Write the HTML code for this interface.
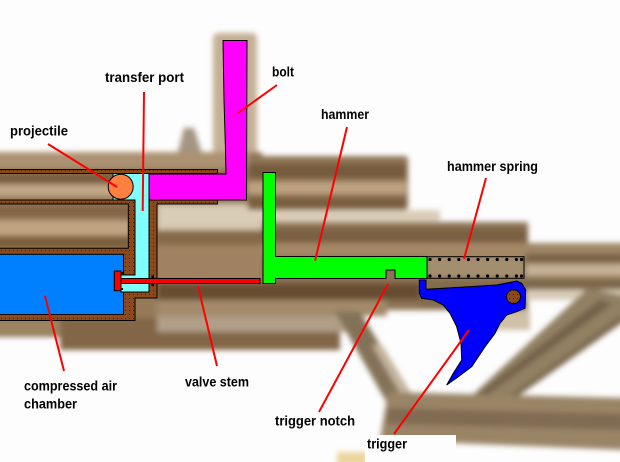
<!DOCTYPE html>
<html><head><meta charset="utf-8">
<style>
html,body{margin:0;padding:0;background:#fdfdfd;}
svg{display:block;}
text{font-family:"Liberation Sans",Arial,sans-serif;font-weight:bold;font-size:13.5px;fill:#000;}
</style></head>
<body>
<svg width="620" height="462" viewBox="0 0 620 462" xmlns="http://www.w3.org/2000/svg">
<defs>
  <filter id="b" x="-10%" y="-10%" width="120%" height="120%"><feGaussianBlur stdDeviation="2.6"/></filter>
  <pattern id="dots" width="4" height="4" patternUnits="userSpaceOnUse">
    <rect width="4" height="4" fill="#8b4a1e"/>
    <rect x="1" y="2" width="1" height="1" fill="#4a2008"/>
  </pattern>
</defs>
<rect width="620" height="462" fill="#fdfdfd"/>

<!-- blurred photo background -->
<g filter="url(#b)">
  <!-- bolt halo & knob -->
  <rect x="213" y="33" width="44" height="150" rx="5" fill="#c4b094"/>
  <polygon points="176,160 184,128 194,128 204,160" fill="#a49482"/>
  <!-- left barrel -->
  <rect x="-10" y="152" width="272" height="185" fill="#957a58"/>
  <rect x="-10" y="152" width="260" height="16" fill="#ac9272"/>
  <rect x="-10" y="174" width="250" height="9" fill="#785c3c"/>
  <rect x="-10" y="185" width="240" height="11" fill="#c2a888"/>
  <rect x="-10" y="205" width="140" height="12" fill="#846646"/>
  <rect x="-10" y="221" width="140" height="14" fill="#c0a482"/>
  <rect x="-10" y="237" width="140" height="11" fill="#7a5e3e"/>
  <rect x="-10" y="320" width="80" height="13" fill="#9c8464"/>
  <rect x="60" y="318" width="280" height="32" fill="#826646"/>
  <!-- middle zone -->
  <rect x="157" y="204" width="110" height="26" fill="#d6c8b2"/>
  <rect x="157" y="230" width="110" height="15" fill="#866a4a"/>
  <rect x="157" y="245" width="110" height="38" fill="#a08262"/>
  <!-- upper tube -->
  <rect x="248" y="156" width="160" height="54" rx="3" fill="#8f7454"/>
  <rect x="248" y="164" width="158" height="14" fill="#765c3c"/>
  <rect x="248" y="182" width="158" height="12" fill="#bea280"/>
  <rect x="248" y="197" width="158" height="13" fill="#7a6040"/>
  <!-- light band -->
  <rect x="160" y="210" width="280" height="13" fill="#dacdb8"/>
  <!-- main middle band -->
  <rect x="262" y="222" width="266" height="88" fill="#8d7354"/>
  <rect x="262" y="229" width="266" height="14" fill="#7a6042"/>
  <rect x="262" y="243" width="266" height="13" fill="#a48866"/>
  <rect x="427" y="257" width="97" height="21" fill="#a48e70"/>
  <rect x="157" y="283" width="300" height="17" fill="#684e30"/>
  <rect x="157" y="300" width="230" height="16" fill="#a28a6a"/>
  <rect x="157" y="316" width="200" height="16" fill="#b09e86"/>
  <rect x="420" y="278" width="105" height="30" fill="#836c4b"/>
  <rect x="470" y="310" width="60" height="20" fill="#cfc0a8"/>
  <!-- right tube -->
  <rect x="526" y="243" width="100" height="47" fill="#9e8666"/>
  <rect x="526" y="254" width="100" height="8" fill="#766044"/>
  <rect x="526" y="265" width="100" height="10" fill="#c6b298"/>
  <rect x="526" y="279" width="100" height="10" fill="#7c664c"/>
  <rect x="526" y="290" width="100" height="10" fill="#d8ccb8"/>
  <!-- diagonal tubes -->
  <polygon points="335,312 360,312 432,430 406,436" fill="#847258"/>
  <polygon points="372,345 382,345 420,408 410,410" fill="#c4b49c"/>
  <polygon points="588,288 626,296 626,318 494,408 465,402" fill="#928064"/>
  <polygon points="600,300 612,304 480,400 472,398" fill="#74624a"/>
  <polygon points="620,316 626,320 504,406 498,404" fill="#7a684e"/>
  <!-- lower band -->
  <polygon points="388,392 626,398 626,450 380,440" fill="#9a8466"/>
  <polygon points="388,408 626,414 626,430 385,424" fill="#806c52"/>
  <!-- yellow blob -->
  <rect x="337" y="452" width="30" height="14" fill="#ecd69e"/>
</g>

<!-- white label box for trigger -->
<rect x="365" y="435" width="91" height="27" fill="#fdfdfd"/>

<!-- housing -->
<rect x="-2" y="169.5" width="219.5" height="4" fill="url(#dots)" stroke="#000" stroke-width="1"/>
<path d="M-2,200 H217.5 V204 H157 V298 H135 V320.5 H-2 Z M-2,204 H128.3 V248.3 H-2 Z" fill="url(#dots)" fill-rule="evenodd" stroke="#000" stroke-width="1"/>
<rect x="-2" y="254.3" width="125.5" height="60.2" fill="#0080ff" stroke="#000" stroke-width="1"/>
<polygon points="113,173.5 149,173.5 149,292 121,292 121,275 135,275 135,200 113,200" fill="#80ffff" stroke="#000" stroke-width="1"/>
<polygon points="223,40.5 247,40.5 246.5,200 149,200 149,174 226,174 225.5,150 224,100" fill="#ff00ff" stroke="#000" stroke-width="1"/>
<circle cx="120.7" cy="186.7" r="12.5" fill="#ff8040" stroke="#000" stroke-width="1"/>

<!-- valve -->
<rect x="121" y="278.5" width="139" height="5" fill="#ff0000" stroke="#000" stroke-width="1"/>
<rect x="114.3" y="271" width="6.7" height="19.7" fill="#ff0000" stroke="#000" stroke-width="1"/>
<rect x="151.5" y="275.5" width="2.5" height="3" fill="#000"/>
<rect x="151.5" y="283" width="2.5" height="3" fill="#000"/>
<rect x="121" y="272" width="2" height="2" fill="#000"/>
<rect x="121" y="288" width="2" height="2" fill="#000"/>

<!-- hammer -->
<polygon points="263,172.5 275.5,172.5 275.5,256.5 427,256.5 427,278.5 395,278.5 395,270 386,270 386,278.5 275.5,278.5 275.5,283.5 263,283.5" fill="#00ff00" stroke="#000" stroke-width="1"/>

<!-- spring -->
<rect x="427" y="256.7" width="97" height="21.6" fill="none" stroke="#000" stroke-width="1"/>
<g fill="#000">
  <circle cx="430" cy="259.5" r="1.6"/><circle cx="439.6" cy="259.5" r="1.6"/><circle cx="449.2" cy="259.5" r="1.6"/><circle cx="458.8" cy="259.5" r="1.6"/><circle cx="468.4" cy="259.5" r="1.6"/><circle cx="478" cy="259.5" r="1.6"/><circle cx="487.6" cy="259.5" r="1.6"/><circle cx="497.2" cy="259.5" r="1.6"/><circle cx="506.8" cy="259.5" r="1.6"/><circle cx="516.4" cy="259.5" r="1.6"/><circle cx="521.5" cy="259.5" r="1.6"/>
  <circle cx="430" cy="276" r="1.6"/><circle cx="439.6" cy="276" r="1.6"/><circle cx="449.2" cy="276" r="1.6"/><circle cx="458.8" cy="276" r="1.6"/><circle cx="468.4" cy="276" r="1.6"/><circle cx="478" cy="276" r="1.6"/><circle cx="487.6" cy="276" r="1.6"/><circle cx="497.2" cy="276" r="1.6"/><circle cx="506.8" cy="276" r="1.6"/><circle cx="516.4" cy="276" r="1.6"/><circle cx="521.5" cy="276" r="1.6"/>
</g>

<!-- trigger -->
<polygon points="419.3,280 426,280 426,289.3 460,287.3 496.7,285 516.7,281 521.7,283.3 525.7,290 525,308.3 516.7,311.7 506.7,315 500,323.3 495,333.3 485,346.7 471.7,366.7 458.3,376.7 446.7,385 453.3,373.3 461.7,360 461,343.3 456.7,326.7 450,313.3 443.3,305 433.3,300 421.7,298.3 419.3,293.3" fill="#0000ff" stroke="#000" stroke-width="1"/>
<circle cx="513.5" cy="296.7" r="7" fill="url(#dots)" stroke="#000" stroke-width="1"/>

<!-- leader lines -->
<g stroke="#ff0000" stroke-width="2" fill="none">
  <line x1="48" y1="144" x2="117" y2="187"/>
  <line x1="144" y1="92" x2="142.7" y2="211"/>
  <line x1="277" y1="85" x2="238" y2="113"/>
  <line x1="347" y1="127" x2="315" y2="261"/>
  <line x1="486" y1="178" x2="464" y2="259"/>
  <line x1="388" y1="284" x2="319" y2="412"/>
  <line x1="469" y1="330" x2="394" y2="434"/>
  <line x1="198" y1="286" x2="217" y2="366"/>
  <line x1="45" y1="296" x2="64" y2="371"/>
</g>

<!-- labels -->
<text x="105" y="82" textLength="79" lengthAdjust="spacingAndGlyphs">transfer port</text>
<text x="272" y="76.5" textLength="22" lengthAdjust="spacingAndGlyphs">bolt</text>
<text x="10" y="135.5" textLength="58" lengthAdjust="spacingAndGlyphs">projectile</text>
<text x="321" y="119" textLength="48" lengthAdjust="spacingAndGlyphs">hammer</text>
<text x="447" y="171" textLength="91" lengthAdjust="spacingAndGlyphs">hammer spring</text>
<text x="24" y="390.5" textLength="93" lengthAdjust="spacingAndGlyphs">compressed air</text>
<text x="24" y="408.5" textLength="53" lengthAdjust="spacingAndGlyphs">chamber</text>
<text x="185" y="386.5" textLength="64" lengthAdjust="spacingAndGlyphs">valve stem</text>
<text x="275" y="425.5" textLength="80" lengthAdjust="spacingAndGlyphs">trigger notch</text>
<text x="367" y="448.5" textLength="40" lengthAdjust="spacingAndGlyphs">trigger</text>
</svg>
</body></html>
